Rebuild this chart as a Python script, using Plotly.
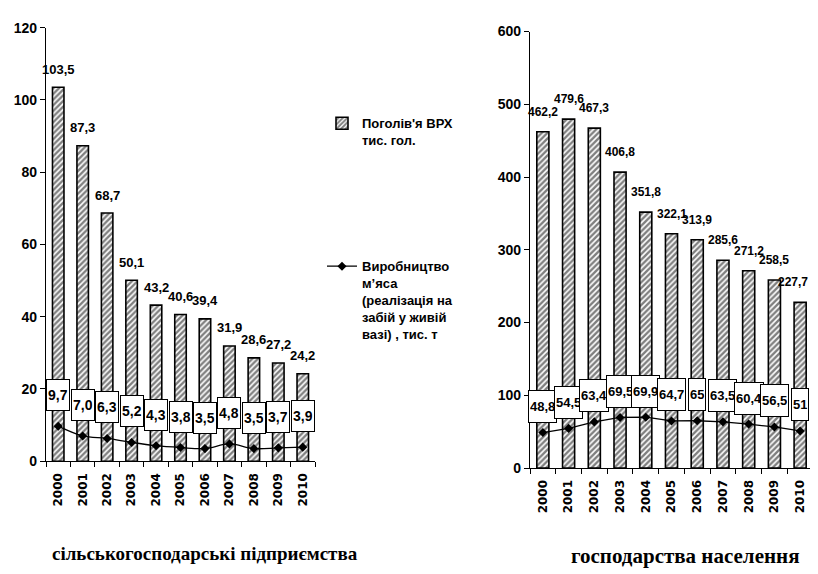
import plotly.graph_objects as go

years = ['2000', '2001', '2002', '2003', '2004', '2005', '2006', '2007', '2008', '2009', '2010']
left_cattle = [103.5, 87.3, 68.7, 50.1, 43.2, 40.6, 39.4, 31.9, 28.6, 27.2, 24.2]
left_meat = [9.7, 7.0, 6.3, 5.2, 4.3, 3.8, 3.5, 4.8, 3.5, 3.7, 3.9]
right_cattle = [462.2, 479.6, 467.3, 406.8, 351.8, 322.1, 313.9, 285.6, 271.2, 258.5, 227.7]
right_meat = [48.8, 54.5, 63.4, 69.5, 69.9, 64.7, 65, 63.5, 60.4, 56.5, 51]

left_ticks = [0, 20, 40, 60, 80, 100, 120]
right_ticks = [0, 100, 200, 300, 400, 500, 600]

name_cattle = "Поголів'я ВРХ<br>тис. гол."
name_meat = "Виробництво<br>м’яса<br>(реалізація на<br>забій у живій<br>вазі) , тис. т"
title_left = "сільськогосподарські підприємства"
title_right = "господарства населення"

FONT = "Liberation Sans, Arial, sans-serif"
TICKFONT = "DejaVu Sans, Verdana, sans-serif"
SERIF = "Liberation Serif, Times New Roman, serif"

def fmt1(v):
    return f"{v:.1f}".replace('.', ',')

def fmtg(v):
    return f"{v:g}".replace('.', ',')

fig = go.Figure()

bar_style = dict(
    marker=dict(color='white', line=dict(color='black', width=1.6),
                pattern=dict(shape='/', fgcolor='black', bgcolor='white', size=4, solidity=0.6)),
)

fig.add_trace(go.Bar(x=years, y=left_cattle, name=name_cattle, xaxis='x', yaxis='y',
                     legend='legend', showlegend=True, **bar_style))
fig.add_trace(go.Scatter(x=years, y=left_meat, name=name_meat, xaxis='x', yaxis='y',
                         legend='legend2', showlegend=True, mode='lines+markers',
                         line=dict(color='black', width=1.3, shape='spline'),
                         marker=dict(symbol='diamond', size=7, color='black')))
fig.add_trace(go.Bar(x=years, y=right_cattle, name=name_cattle, xaxis='x2', yaxis='y2',
                     showlegend=False, **bar_style))
fig.add_trace(go.Scatter(x=years, y=right_meat, name=name_meat, xaxis='x2', yaxis='y2',
                         showlegend=False, mode='lines+markers',
                         line=dict(color='black', width=1.3),
                         marker=dict(symbol='diamond', size=7, color='black')))

annotations = []
n = len(years)
for i, v in enumerate(left_cattle):
    annotations.append(dict(x=i, y=v, xref='x', yref='y', text=fmt1(v), showarrow=False,
                            yshift=18, font=dict(family=FONT, size=13, color='black', weight='bold')))
for i, v in enumerate(right_cattle):
    annotations.append(dict(x=i, y=v, xref='x2', yref='y2', text=fmt1(v), showarrow=False,
                            yshift=20, xshift=(-7 if i == n - 1 else 0),
                            font=dict(family=FONT, size=12, color='black', weight='bold')))
for i, v in enumerate(left_meat):
    annotations.append(dict(x=i, y=v, xref='x', yref='y', text=fmt1(v), showarrow=False,
                            yshift=31, font=dict(family=FONT, size=14, color='black', weight='bold'),
                            bgcolor='white', bordercolor='black', borderwidth=1, borderpad=1, height=28))
for i, v in enumerate(right_meat):
    annotations.append(dict(x=i, y=v, xref='x2', yref='y2', text=fmtg(v), showarrow=False,
                            yshift=26, font=dict(family=FONT, size=13, color='black', weight='bold'),
                            bgcolor='white', bordercolor='black', borderwidth=1, borderpad=1, height=29))

annotations.append(dict(x=197 / 818, y=1 - 553 / 574, xref='paper', yref='paper', text=title_left,
                        xanchor='center', yanchor='middle', showarrow=False,
                        font=dict(family=SERIF, size=19, color='black', weight='bold')))
annotations.append(dict(x=677 / 818, y=1 - 555 / 574, xref='paper', yref='paper', text=title_right,
                        xanchor='center', yanchor='middle', showarrow=False,
                        font=dict(family=SERIF, size=21, color='black', weight='bold')))

xaxis_common = dict(type='category', showline=True, linecolor='black', linewidth=1.2,
                    ticks='outside', ticklen=5, tickcolor='black', tickson='boundaries',
                    tickangle=-90, ticklabelstandoff=6,
                    tickfont=dict(family=TICKFONT, size=12, color='black', weight='bold'),
                    showgrid=False, zeroline=False, range=[-0.5, 10.5])
yaxis_common = dict(showline=True, linecolor='black', linewidth=1.2, ticks='outside', ticklen=5,
                    tickcolor='black', tickfont=dict(family=FONT, size=14, color='black', weight='bold'),
                    showgrid=False, zeroline=False)

leg_font = dict(family=FONT, size=13, color='black', weight='bold')

fig.update_layout(
    width=818, height=574,
    margin=dict(l=0, r=0, t=0, b=0),
    paper_bgcolor='white', plot_bgcolor='white',
    barmode='overlay', bargap=0.53,
    xaxis=dict(domain=[38 / 818, 307 / 818], anchor='y', **xaxis_common),
    yaxis=dict(domain=[1 - 458 / 574, 1 - 12 / 574], anchor='x', range=[0, 120],
               tickvals=left_ticks, **yaxis_common),
    xaxis2=dict(domain=[522 / 818, 805 / 818], anchor='y2', **xaxis_common),
    yaxis2=dict(domain=[1 - 465 / 574, 1 - 16 / 574], anchor='x2', range=[0, 600],
                tickvals=right_ticks, **yaxis_common),
    legend=dict(x=314 / 818, y=1 - 95 / 574, xanchor='left', yanchor='top', valign='top',
                font=leg_font, bgcolor='rgba(0,0,0,0)', itemwidth=30),
    legend2=dict(x=314 / 818, y=1 - 242 / 574, xanchor='left', yanchor='top', valign='top',
                 font=leg_font, bgcolor='rgba(0,0,0,0)', itemwidth=30),
    annotations=annotations,
)

fig.write_html("out.html")
